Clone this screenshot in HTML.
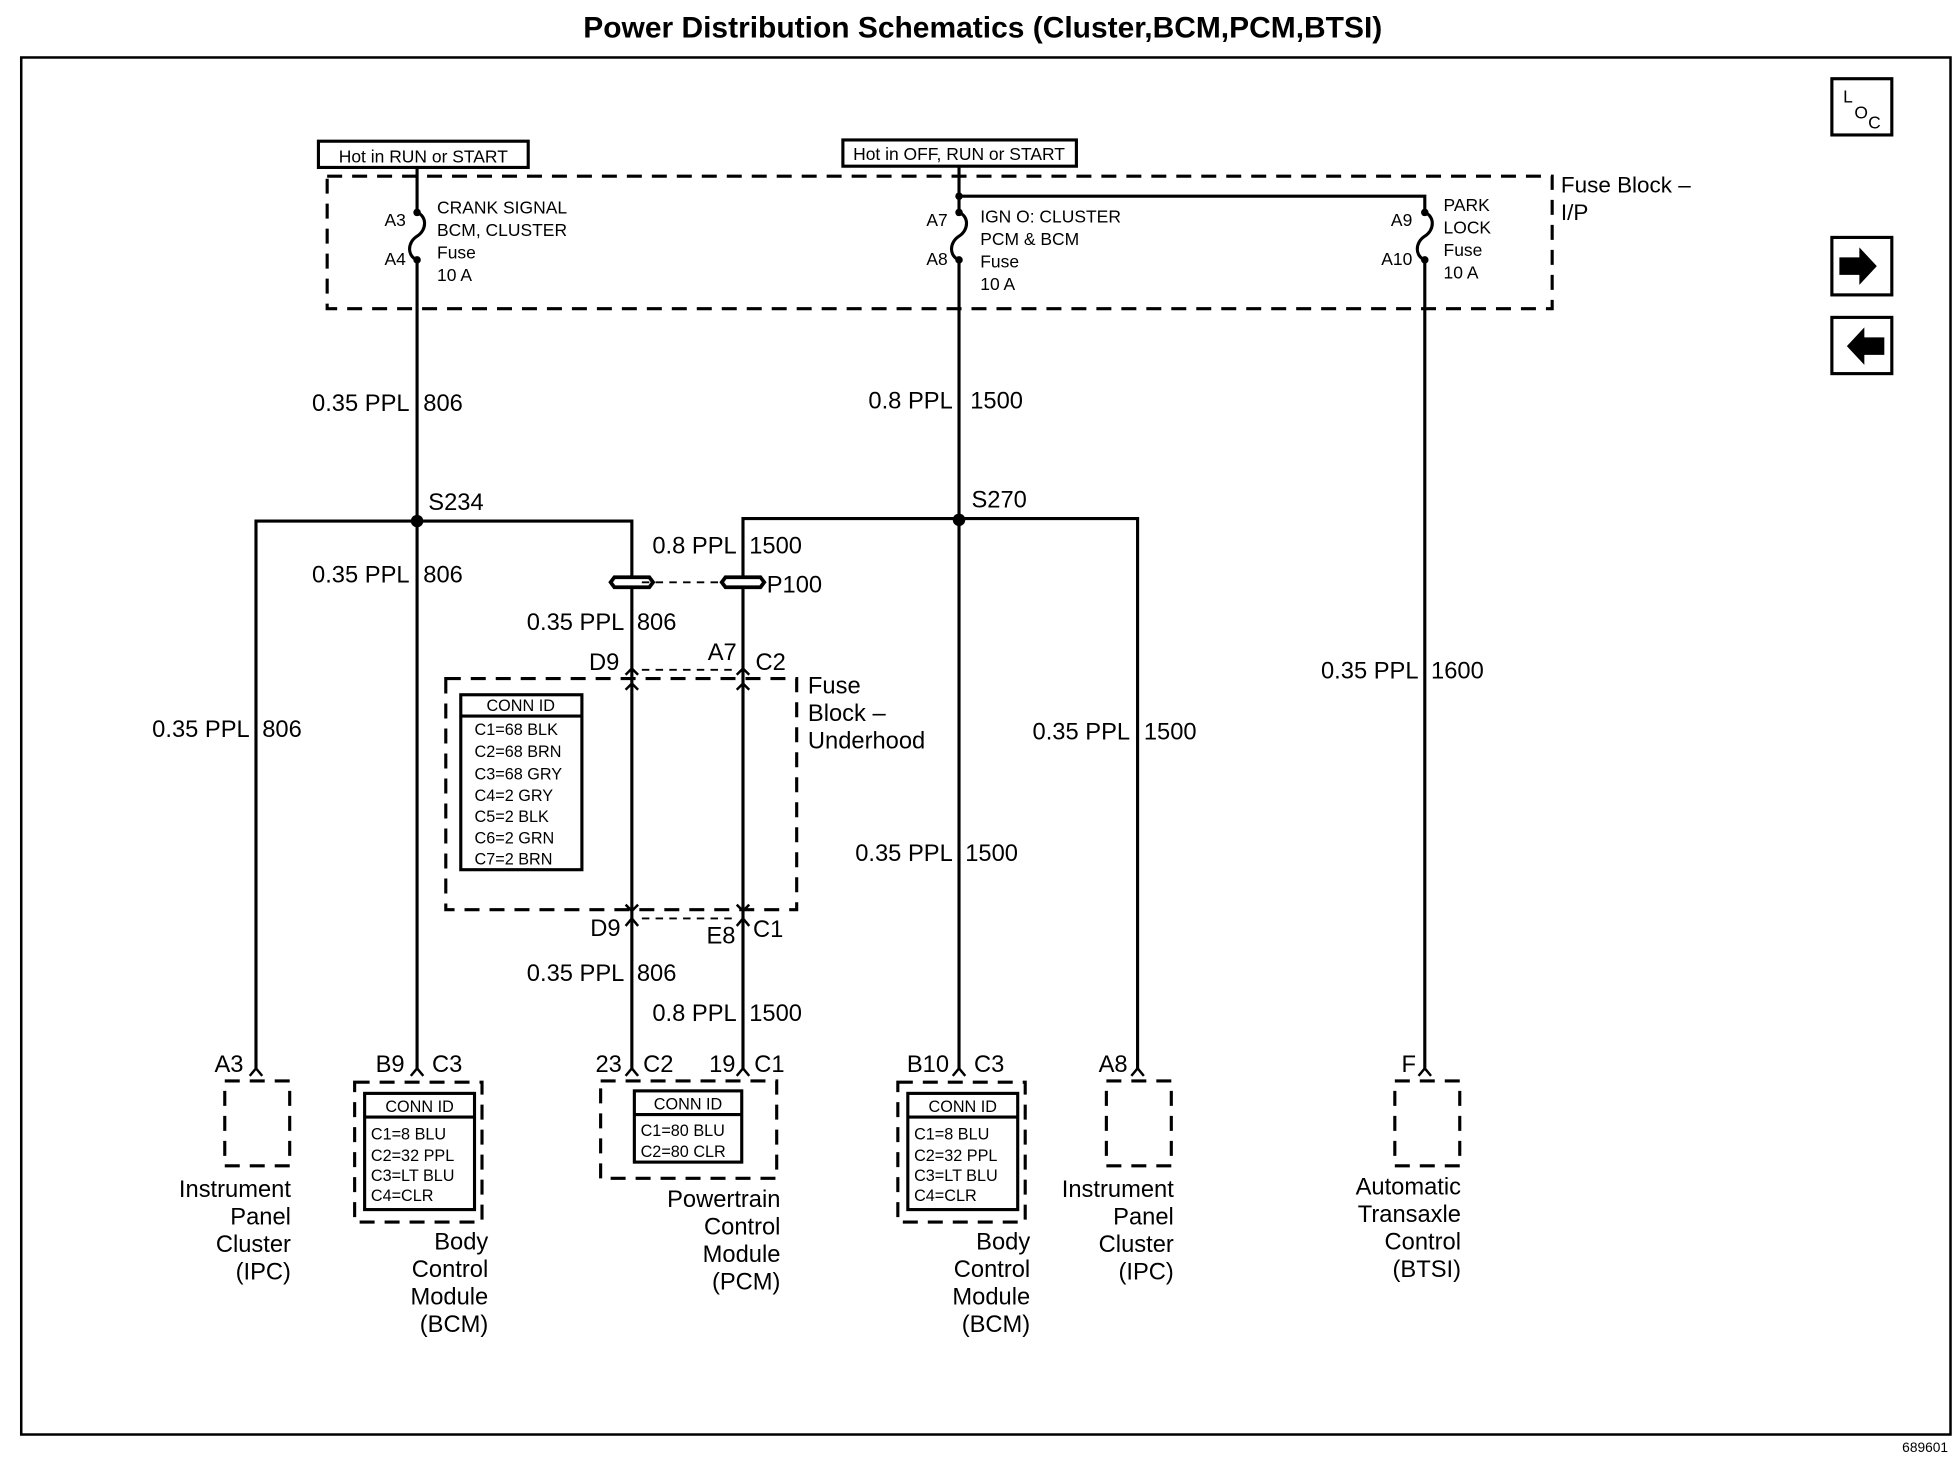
<!DOCTYPE html>
<html><head><meta charset="utf-8"><style>
html,body{margin:0;padding:0;background:#fff}
svg{display:block}
text{font-family:"Liberation Sans",Arial,sans-serif;fill:#000}
.w{font-size:19px}
.f{font-size:14px}
.c{font-size:13px}
.r{text-anchor:end}
.m{text-anchor:middle}
</style></head><body>
<svg width="1958" height="1472" viewBox="0 0 1568 1178" preserveAspectRatio="none" xmlns="http://www.w3.org/2000/svg">
<g fill="none" stroke="#000" stroke-width="2.5">
<rect x="17" y="46" width="1545" height="1102" stroke-width="2"/>
<rect x="1467" y="63" width="48" height="45"/>
<rect x="1467" y="190" width="48" height="46"/>
<rect x="1467" y="254" width="48" height="45"/>
<rect x="255" y="113" width="168" height="21"/>
<rect x="675" y="112" width="187" height="21"/>
<rect x="262" y="141" width="981" height="106" stroke-dasharray="12,8"/>
<path d="M334 134V170M334 208V417"/>
<path d="M334 170c8 3 8 14 0 19c-8 5 -8 16 0 19"/>
<path d="M768 133V170M768 208V855"/>
<path d="M768 170c8 3 8 14 0 19c-8 5 -8 16 0 19"/>
<path d="M768 157H1141V170M1141 208V855"/>
<path d="M1141 170c8 3 8 14 0 19c-8 5 -8 16 0 19"/>
<path d="M205 855V417H506V462M506 470V535"/>
<path d="M334 417V855"/>
<path d="M595 462V415H911V855"/>
<path d="M595 470V535"/>
<path d="M506 535V735M595 535V735M506 735V855M595 735V855"/>
<path d="M514 466H580M514 735H590M514 536H590" stroke-dasharray="6,5" stroke-width="1.5"/>
<path d="M492 462H520L523 466L520 470H492L489 466Z" stroke-width="3"/>
<path d="M581 462H609L612 466L609 470H581L578 466Z" stroke-width="3"/>
<rect x="357" y="543" width="281" height="185" stroke-dasharray="12,8"/>
<rect x="369" y="556" width="97" height="140"/><path d="M369 573H466"/>
<path d="M501 540l5-5 5 5M590 540l5-5 5 5M501 552l5-5 5 5M590 552l5-5 5 5M501 724l5 5 5-5M590 724l5 5 5-5M501 741l5-6 5 6M590 741l5-6 5 6" stroke-width="2"/>
<path d="M200 861l5-6 5 6M329 861l5-6 5 6M501 861l5-6 5 6M590 861l5-6 5 6M763 861l5-6 5 6M906 861l5-6 5 6M1136 861l5-6 5 6" stroke-width="2"/>
<rect x="180" y="865" width="52" height="68" stroke-dasharray="12,8"/>
<rect x="284" y="866" width="102" height="112" stroke-dasharray="12,8"/>
<rect x="292" y="875" width="88" height="93"/><path d="M292 894H380"/>
<rect x="481" y="865" width="141" height="78" stroke-dasharray="12,8"/>
<rect x="508" y="873" width="86" height="57"/><path d="M508 892H594"/>
<rect x="719" y="866" width="102" height="112" stroke-dasharray="12,8"/>
<rect x="727" y="875" width="88" height="93"/><path d="M727 894H815"/>
<rect x="886" y="865" width="52" height="68" stroke-dasharray="12,8"/>
<rect x="1117" y="865" width="52" height="68" stroke-dasharray="12,8"/>
</g>
<g fill="#000">
<circle cx="334" cy="417" r="5"/><circle cx="768" cy="416" r="5"/>
<circle cx="334" cy="170" r="3"/><circle cx="334" cy="208" r="3"/>
<circle cx="768" cy="157" r="3"/><circle cx="768" cy="170" r="3"/><circle cx="768" cy="208" r="3"/>
<circle cx="1141" cy="170" r="3"/><circle cx="1141" cy="208" r="3"/>
<path d="M1473 206h16v-8l14 15-14 15v-8h-16z"/>
<path d="M1509 270h-16v-8l-14 15 14 15v-8h16z"/>
</g>
<text x="787" y="30" class="m" style="font-size:24px;font-weight:bold">Power Distribution Schematics (Cluster,BCM,PCM,BTSI)</text>
<text x="1476" y="82" style="font-size:14px">L</text><text x="1485" y="95" style="font-size:14px">O</text><text x="1496" y="103" style="font-size:14px">C</text>
<text x="1560" y="1162" class="r" style="font-size:11px">689601</text>
<text x="339" y="130" class="m f">Hot in RUN or START</text>
<text x="768" y="128" class="m f">Hot in OFF, RUN or START</text>
<text x="1250" y="154" style="font-size:18px">Fuse Block –</text>
<text x="1250" y="176" style="font-size:18px">I/P</text>
<g class="f">
<text x="325" y="181" class="r">A3</text><text x="325" y="212" class="r">A4</text>
<text x="350" y="171">CRANK SIGNAL</text><text x="350" y="189">BCM, CLUSTER</text><text x="350" y="207">Fuse</text><text x="350" y="225">10 A</text>
<text x="759" y="181" class="r">A7</text><text x="759" y="212" class="r">A8</text>
<text x="785" y="178">IGN O: CLUSTER</text><text x="785" y="196">PCM &amp; BCM</text><text x="785" y="214">Fuse</text><text x="785" y="232">10 A</text>
<text x="1131" y="181" class="r">A9</text><text x="1131" y="212" class="r">A10</text>
<text x="1156" y="169">PARK</text><text x="1156" y="187">LOCK</text><text x="1156" y="205">Fuse</text><text x="1156" y="223">10 A</text>
</g>
<g class="w">
<text x="328" y="329" class="r">0.35 PPL</text><text x="339" y="329">806</text>
<text x="763" y="327" class="r">0.8 PPL</text><text x="777" y="327">1500</text>
<text x="343" y="408">S234</text><text x="778" y="406">S270</text>
<text x="590" y="443" class="r">0.8 PPL</text><text x="600" y="443">1500</text>
<text x="328" y="466" class="r">0.35 PPL</text><text x="339" y="466">806</text>
<text x="614" y="474">P100</text>
<text x="500" y="504" class="r">0.35 PPL</text><text x="510" y="504">806</text>
<text x="496" y="536" class="r">D9</text><text x="590" y="528" class="r">A7</text><text x="605" y="536">C2</text>
<text x="647" y="555">Fuse</text><text x="647" y="577">Block –</text><text x="647" y="599">Underhood</text>
<text x="200" y="590" class="r">0.35 PPL</text><text x="210" y="590">806</text>
<text x="905" y="592" class="r">0.35 PPL</text><text x="916" y="592">1500</text>
<text x="763" y="689" class="r">0.35 PPL</text><text x="773" y="689">1500</text>
<text x="1136" y="543" class="r">0.35 PPL</text><text x="1146" y="543">1600</text>
<text x="497" y="749" class="r">D9</text><text x="589" y="755" class="r">E8</text><text x="603" y="750">C1</text>
<text x="500" y="785" class="r">0.35 PPL</text><text x="510" y="785">806</text>
<text x="590" y="817" class="r">0.8 PPL</text><text x="600" y="817">1500</text>
<text x="195" y="858" class="r">A3</text>
<text x="324" y="858" class="r">B9</text><text x="346" y="858">C3</text>
<text x="498" y="858" class="r">23</text><text x="515" y="858">C2</text>
<text x="589" y="858" class="r">19</text><text x="604" y="858">C1</text>
<text x="760" y="858" class="r">B10</text><text x="780" y="858">C3</text>
<text x="903" y="858" class="r">A8</text>
<text x="1134" y="858" class="r">F</text>
<text x="233" y="958" class="r">Instrument</text><text x="233" y="980" class="r">Panel</text><text x="233" y="1002" class="r">Cluster</text><text x="233" y="1024" class="r">(IPC)</text>
<text x="391" y="1000" class="r">Body</text><text x="391" y="1022" class="r">Control</text><text x="391" y="1044" class="r">Module</text><text x="391" y="1066" class="r">(BCM)</text>
<text x="625" y="966" class="r">Powertrain</text><text x="625" y="988" class="r">Control</text><text x="625" y="1010" class="r">Module</text><text x="625" y="1032" class="r">(PCM)</text>
<text x="825" y="1000" class="r">Body</text><text x="825" y="1022" class="r">Control</text><text x="825" y="1044" class="r">Module</text><text x="825" y="1066" class="r">(BCM)</text>
<text x="940" y="958" class="r">Instrument</text><text x="940" y="980" class="r">Panel</text><text x="940" y="1002" class="r">Cluster</text><text x="940" y="1024" class="r">(IPC)</text>
<text x="1170" y="956" class="r">Automatic</text><text x="1170" y="978" class="r">Transaxle</text><text x="1170" y="1000" class="r">Control</text><text x="1170" y="1022" class="r">(BTSI)</text>
</g>
<g class="c">
<text x="417" y="569" class="m">CONN ID</text>
<text x="380" y="588">C1=68 BLK</text><text x="380" y="606">C2=68 BRN</text><text x="380" y="624">C3=68 GRY</text><text x="380" y="641">C4=2 GRY</text><text x="380" y="658">C5=2 BLK</text><text x="380" y="675">C6=2 GRN</text><text x="380" y="692">C7=2 BRN</text>
<text x="336" y="890" class="m">CONN ID</text>
<text x="297" y="912">C1=8 BLU</text><text x="297" y="929">C2=32 PPL</text><text x="297" y="945">C3=LT BLU</text><text x="297" y="961">C4=CLR</text>
<text x="551" y="888" class="m">CONN ID</text>
<text x="513" y="909">C1=80 BLU</text><text x="513" y="926">C2=80 CLR</text>
<text x="771" y="890" class="m">CONN ID</text>
<text x="732" y="912">C1=8 BLU</text><text x="732" y="929">C2=32 PPL</text><text x="732" y="945">C3=LT BLU</text><text x="732" y="961">C4=CLR</text>
</g>
</svg>
</body></html>
